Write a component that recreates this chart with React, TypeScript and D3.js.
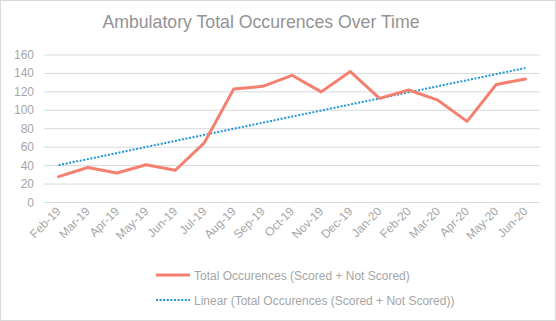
import React from "react";
import * as d3 from "d3";

const months = ["Feb-19","Mar-19","Apr-19","May-19","Jun-19","Jul-19","Aug-19","Sep-19","Oct-19","Nov-19","Dec-19","Jan-20","Feb-20","Mar-20","Apr-20","May-20","Jun-20"];
const totals = [28,38,32,41,35,65,123,126,138,120,142,113,122,111,88,128,134];
const yTicks = [0,20,40,60,80,100,120,140,160];
const title = "Ambulatory Total Occurences Over Time";
const seriesName = "Total Occurences (Scored + Not Scored)";
const trendName = "Linear (Total Occurences (Scored + Not Scored))";

const W = 556, H = 321;
const font = "'Liberation Sans', Arial, sans-serif";

export default function App() {
  const x = d3.scaleBand<string>().domain(months).range([44, 540]);
  const y = d3.scaleLinear().domain([0, 160]).range([202.5, 55]);
  const cx = (m: string) => (x(m) as number) + x.bandwidth() / 2;

  const idx = totals.map((_, i) => i);
  const mx = d3.mean(idx) as number;
  const my = d3.mean(totals) as number;
  const slope = d3.sum(idx, i => (i - mx) * (totals[i] - my)) / d3.sum(idx, i => (i - mx) ** 2);
  const icpt = my - slope * mx;
  const trend = idx.map(i => icpt + slope * i);

  const line = d3.line<number>().x((_, i) => cx(months[i])).y(v => y(v));

  return (
    <svg width={W} height={H} style={{ position: "absolute", left: 0, top: 0 }} fontFamily={font}>
      <rect x={0.5} y={0.5} width={W - 1} height={H - 1} fill="#fff" stroke="#d9d9d9" />
      <text x={W / 2 - 17} y={28} textAnchor="middle" fontSize={17.7} fill="#939393">{title}</text>
      {yTicks.map(t => (
        <g key={t}>
          <line x1={44} x2={540} y1={y(t)} y2={y(t)} stroke="#d9d9d9" strokeWidth={1} />
          <text x={34} y={y(t) + 4} textAnchor="end" fontSize={12} fill="#a6a6a6">{t}</text>
        </g>
      ))}
      {months.map(m => (
        <text key={m} transform={`translate(${cx(m) + 3},${212}) rotate(-45)`} textAnchor="end" fontSize={12} fill="#a6a6a6">{m}</text>
      ))}
      <path d={line(trend) || ""} fill="none" stroke="#1f96d8" strokeWidth={2} strokeDasharray="2 1.6" />
      <path d={line(totals) || ""} fill="none" stroke="#f4806f" strokeWidth={3} strokeLinejoin="round" strokeLinecap="round" />
      <line x1={156} x2={190} y1={275} y2={275} stroke="#f4806f" strokeWidth={3} />
      <text x={194} y={279.5} fontSize={12} fill="#a6a6a6">{seriesName}</text>
      <line x1={156} x2={190} y1={300} y2={300} stroke="#1f96d8" strokeWidth={2} strokeDasharray="2 1.6" />
      <text x={194} y={304.5} fontSize={12} fill="#a6a6a6">{trendName}</text>
    </svg>
  );
}
